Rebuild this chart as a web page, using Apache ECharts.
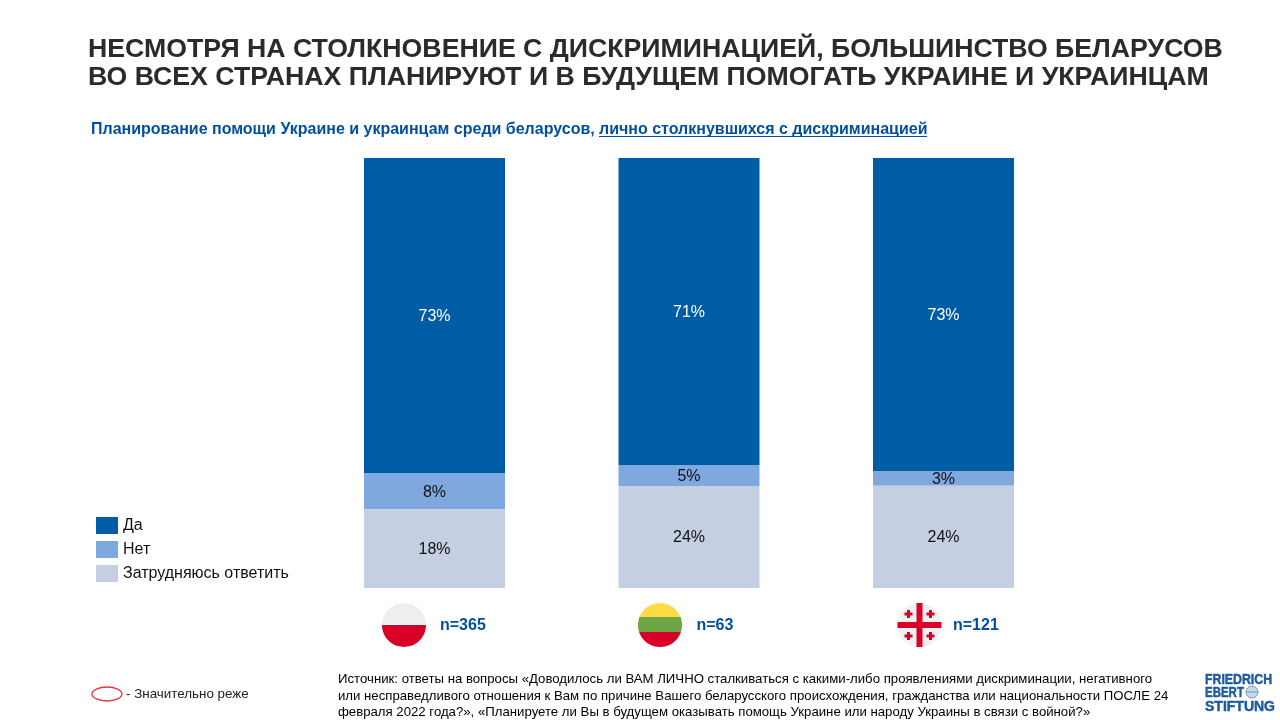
<!DOCTYPE html>
<html><head><meta charset="utf-8">
<style>html,body{margin:0;padding:0;background:#fff}#c{width:1280px;height:720px}</style>
<script src="https://cdn.jsdelivr.net/npm/echarts@6/dist/echarts.min.js"></script>
</head><body><div id="c"></div>
<script>
const categories = ['n=365', 'n=63', 'n=121'];
const seriesNames = ['Да', 'Нет', 'Затрудняюсь ответить'];
const yes = [73.4, 71.4, 72.9];
const no = [8.3, 4.9, 3.3];
const hard = [18.3, 23.7, 23.8];
const colors = ['#005ca5', '#7fa8df', '#c4cfe2'];
const titleLines = ['НЕСМОТРЯ НА СТОЛКНОВЕНИЕ С ДИСКРИМИНАЦИЕЙ, БОЛЬШИНСТВО БЕЛАРУСОВ',
  'ВО ВСЕХ СТРАНАХ ПЛАНИРУЮТ И В БУДУЩЕМ ПОМОГАТЬ УКРАИНЕ И УКРАИНЦАМ'];
const subA = 'Планирование помощи Украине и украинцам среди беларусов, ';
const subB = 'лично столкнувшихся с дискриминацией';
const sourceLines = [
  'Источник: ответы на вопросы «Доводилось ли ВАМ ЛИЧНО сталкиваться с какими-либо проявлениями дискриминации, негативного',
  'или несправедливого отношения к Вам по причине Вашего беларусского происхождения, гражданства или национальности ПОСЛЕ 24',
  'февраля 2022 года?», «Планируете ли Вы в будущем оказывать помощь Украине или народу Украины в связи с войной?»'];
const F = '"Liberation Sans", Arial, sans-serif';
const blue = '#004f9f';

function txt(x, y, text, size, color, weight, extra) {
  return Object.assign({type:'text', x, y, silent:true,
    style:{text, font:(weight||'normal')+' '+size+'px '+F, fill:color, textVerticalAlign:'middle'}}, extra||{});
}
// circular segment between y1 and y2 in a circle
function seg(cx, cy, r, y1, y2, fill) {
  const poly=[];
  const n=24;
  for(let i=0;i<=n;i++){const y=y1+(y2-y1)*i/n,dx=Math.sqrt(Math.max(0,r*r-(y-cy)*(y-cy)));poly.push([cx+dx,y]);}
  for(let i=n;i>=0;i--){const y=y1+(y2-y1)*i/n,dx=Math.sqrt(Math.max(0,r*r-(y-cy)*(y-cy)));poly.push([cx-dx,y]);}
  return {type:'polygon',silent:true,shape:{points:poly},style:{fill}};
}
const g=[];
// Poland
g.push(seg(404,625,22,603,624,'#eeeeee'),seg(404,625,22,625,647,'#d80027'));
// Lithuania
g.push(seg(660,625,22,603,617,'#ffda44'),seg(660,625,22,617,632,'#6da544'),seg(660,625,22,632,647,'#d80027'));
// Georgia
g.push({type:'circle',silent:true,shape:{cx:919.5,cy:625,r:22},style:{fill:'#f0f0f0'}});
g.push({type:'rect',silent:true,shape:{x:916.5,y:603,width:6,height:44},style:{fill:'#d80027'}});
g.push({type:'rect',silent:true,shape:{x:897.5,y:622,width:44,height:6},style:{fill:'#d80027'}});
[[908.5,614],[930.5,614],[908.5,636],[930.5,636]].forEach(([x,y])=>{
  g.push({type:'rect',silent:true,shape:{x:x-4,y:y-1.5,width:8,height:3},style:{fill:'#d80027'}});
  g.push({type:'rect',silent:true,shape:{x:x-1.5,y:y-4,width:3,height:8},style:{fill:'#d80027'}});
});
// title
g.push(txt(88,50,titleLines[0],26.7,'#2b2b2b','bold'));
g.push(txt(88,78,titleLines[1],26.7,'#2b2b2b','bold'));
// subtitle
g.push(txt(91,129.5,subA,16,blue,'bold'));
g.push(txt(599,129.5,subB,16,blue,'bold'));
g.push({type:'line',silent:true,shape:{x1:599,y1:136.5,x2:927,y2:136.5},style:{stroke:blue,lineWidth:1}});
// source
sourceLines.forEach((l,i)=>g.push(txt(338,[679.5,696.5,712.5][i],l,13.2,'#000')));
// significance key
g.push({type:'ellipse',silent:true,shape:{cx:107,cy:694,rx:15,ry:7},style:{fill:'none',stroke:'#e8303a',lineWidth:1.3}});
g.push(txt(126,694,'- Значительно реже',13.4,'#222'));
// logo
[['FRIEDRICH',680,.88],['EBERT',693,.82],['STIFTUNG',707,1]].forEach(([t,y,s])=>{
  g.push({type:'text',x:1205,y,scaleX:s,silent:true,style:{text:t,font:'bold 14px '+F,fill:'#1c5a9f',stroke:'#1c5a9f',lineWidth:.5,textVerticalAlign:'middle'}});
});
g.push({type:'circle',silent:true,shape:{cx:1252,cy:692,r:6},style:{fill:'#c9d8ea',stroke:'#6f97c4',lineWidth:1}});
g.push({type:'line',silent:true,shape:{x1:1246,y1:692,x2:1258,y2:692},style:{stroke:'#6f97c4',lineWidth:1}});

const chart=echarts.init(document.getElementById('c'),null,{renderer:'canvas'});
const pads=[5.5,7.5,9.5];
const rich={};pads.forEach((p,i)=>rich['r'+i]={fontFamily:F,fontWeight:'bold',fontSize:16,color:blue,padding:[0,0,0,p]});
const mk=(name,data,i,col)=>({name,type:'bar',stack:'t',data,barWidth:141,itemStyle:{color:colors[i]},
  label:{show:true,position:'inside',fontFamily:F,fontSize:16,color:col,offset:[0,1],formatter:p=>Math.round(p.value)+'%'},
  emphasis:{disabled:true},animation:false});
chart.setOption({
  animation:false,
  backgroundColor:'#fff',
  grid:{left:307.25,top:158,width:763.5,height:430,containLabel:false},
  legend:{orient:'vertical',left:96,top:517,padding:0,itemWidth:22,itemHeight:17,itemGap:7,icon:'rect',
    data:seriesNames,selectedMode:false,textStyle:{fontFamily:F,fontSize:16,color:'#111'}},
  xAxis:{type:'category',data:categories,axisLine:{show:false},axisTick:{show:false},
    axisLabel:{margin:30,align:'left',formatter:(v,i)=>`{r${i}|${v}}`,rich}},
  yAxis:{type:'value',inverse:true,min:0,max:100,show:false},
  series:[mk(seriesNames[0],yes,0,'#fff'),mk(seriesNames[1],no,1,'#111'),mk(seriesNames[2],hard,2,'#111')],
  graphic:{elements:g}
});
</script></body></html>
